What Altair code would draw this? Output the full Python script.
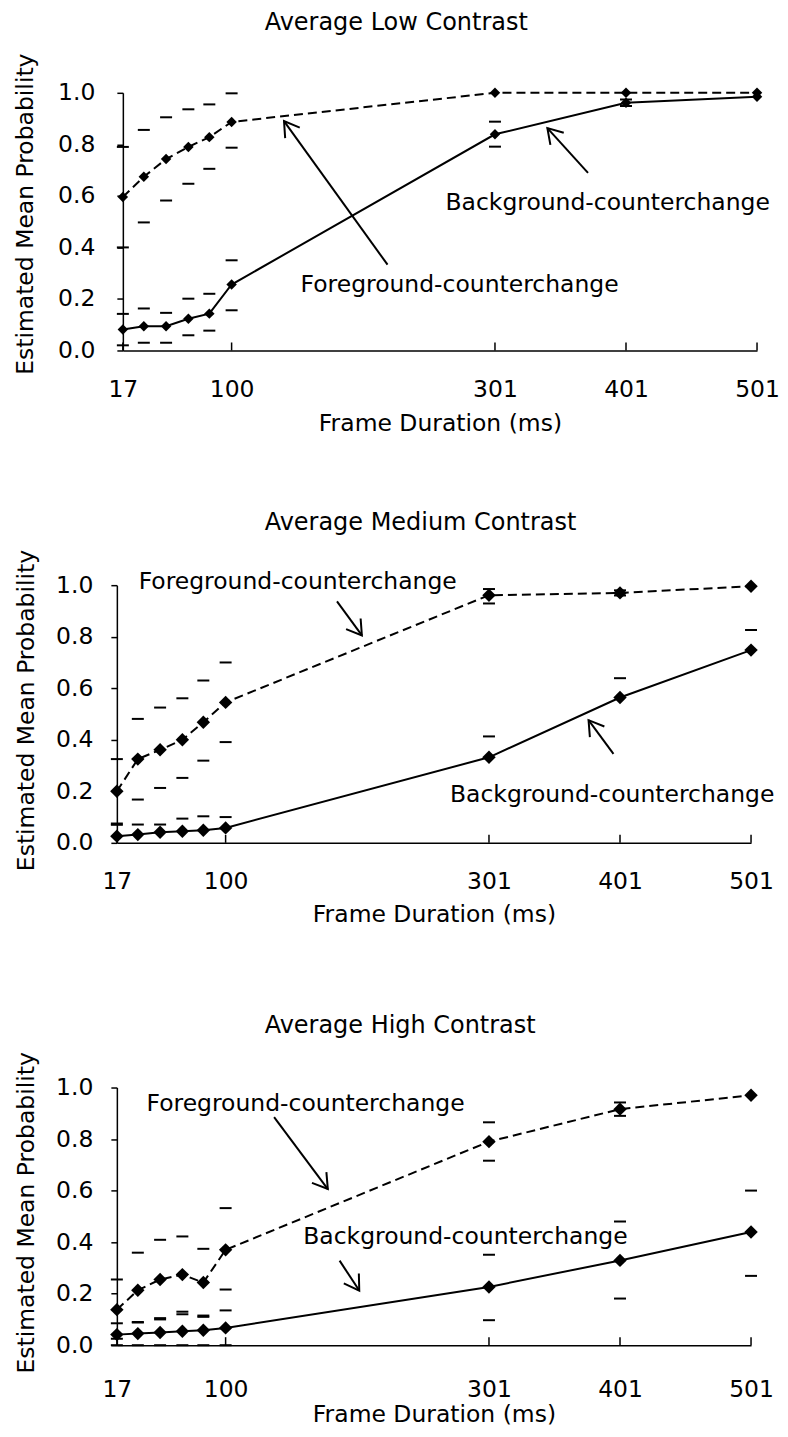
import math
import altair as alt
import pandas as pd

FONT = "DejaVu Sans"
FS = 23.5
W = 635          # plot width (17..501 ms)
H = 258          # plot height (0..1)

# ---------------- data ----------------
frame_ms = [17, 33, 50, 67, 83, 100, 301, 401, 501]
x_tick_values = [17, 100, 301, 401, 501]
y_tick_values = [0.0, 0.2, 0.4, 0.6, 0.8, 1.0]

titles = ["Average Low Contrast", "Average Medium Contrast", "Average High Contrast"]
series_labels = ["Foreground-counterchange", "Background-counterchange"]

# Low contrast
low_fg = [0.596, 0.674, 0.743, 0.790, 0.828, 0.887, 1.000, 1.000, 1.000]
low_fg_hi = [0.790, 0.856, 0.905, 0.936, 0.955, 0.998, None, None, None]
low_fg_lo = [0.400, 0.497, 0.582, 0.647, 0.705, 0.787, None, None, None]
low_bg = [0.081, 0.094, 0.094, 0.123, 0.143, 0.256, 0.839, 0.961, 0.985]
low_bg_hi = [0.142, 0.163, 0.146, 0.201, 0.220, 0.350, 0.888, 0.974, None]
low_bg_lo = [0.020, 0.030, 0.030, 0.059, 0.077, 0.156, 0.791, 0.949, None]

# Medium contrast
med_fg = [0.200, 0.325, 0.361, 0.400, 0.468, 0.545, 0.961, 0.970, 0.996]
med_fg_hi = [0.325, 0.481, 0.525, 0.561, 0.630, 0.700, 0.985, 0.980, None]
med_fg_lo = [0.075, 0.168, 0.213, 0.252, 0.319, 0.391, 0.929, 0.960, None]
med_bg = [0.026, 0.032, 0.041, 0.045, 0.049, 0.058, 0.332, 0.564, 0.748]
med_bg_hi = [0.070, 0.071, 0.071, 0.094, 0.103, 0.100, 0.413, 0.639, 0.826]
med_bg_lo = [None, None, None, None, None, None, None, None, None]

# High contrast
high_fg = [0.138, 0.213, 0.255, 0.274, 0.243, 0.370, 0.790, 0.916, 0.970]
high_fg_hi = [0.255, 0.359, 0.409, 0.422, 0.374, 0.532, 0.865, 0.942, None]
high_fg_lo = [0.025, 0.088, 0.105, 0.130, 0.115, 0.216, 0.716, 0.890, None]
high_bg = [0.041, 0.045, 0.049, 0.054, 0.058, 0.067, 0.226, 0.329, 0.439]
high_bg_hi = [0.085, 0.090, 0.100, 0.120, 0.110, 0.135, 0.351, 0.480, 0.600]
high_bg_lo = [0.000, 0.000, 0.000, 0.000, 0.000, 0.000, 0.097, 0.181, 0.269]

# annotation label centres (ms, probability) : [foreground, background]
low_ann_x = [274, 387]
low_ann_y = [0.256, 0.573]
med_ann_x = [155, 395]
med_ann_y = [1.014, 0.186]
high_ann_x = [161, 283]
high_ann_y = [0.935, 0.421]

# arrows: from (x0, y0) to tip (x1, y1) : [foreground, background]
low_arr_x0 = [219, 372]
low_arr_y0 = [0.333, 0.689]
low_arr_x1 = [140, 341]
low_arr_y1 = [0.890, 0.863]
med_arr_x0 = [185, 396]
med_arr_y0 = [0.937, 0.345]
med_arr_x1 = [204, 377]
med_arr_y1 = [0.805, 0.476]
high_arr_x0 = [137, 187]
high_arr_y0 = [0.885, 0.328]
high_arr_x1 = [178, 202]
high_arr_y1 = [0.606, 0.212]

ARROW_HEAD = "M-0.53,0.85L0,0L0.53,0.85"


def caps_frame(hi, lo):
    rows = []
    for ms, h, l in zip(frame_ms, hi, lo):
        if h is not None:
            rows.append({"ms": ms, "v": h})
        if l is not None:
            rows.append({"ms": ms, "v": l})
    return pd.DataFrame(rows)


def panel(title, fg, fg_hi, fg_lo, bg, bg_hi, bg_lo,
          ann_x, ann_y, ax0, ay0, ax1, ay1,
          marker_size, shift, ylab_pad, ytitle_pad, ytitle_y,
          xlab_pad, xtitle_pad, title_offset):
    width = W + shift
    xs = alt.Scale(domain=[17, 501], range=[shift, width], nice=False, zero=False)
    ys = alt.Scale(domain=[0, 1], nice=False, zero=False)

    x_axis = alt.Axis(values=x_tick_values, format="d", title="Frame Duration (ms)",
                      ticks=False, labelPadding=xlab_pad, titlePadding=xtitle_pad,
                      labelFlush=False, grid=False)
    y_axis = alt.Axis(values=y_tick_values, format=".1f", title="Estimated Mean Probability",
                      offset=-shift, tickSize=6, labelPadding=ylab_pad,
                      titlePadding=ytitle_pad, titleY=ytitle_y,
                      labelFlush=False, grid=False)

    df_fg = pd.DataFrame({"ms": frame_ms, "v": fg})
    df_bg = pd.DataFrame({"ms": frame_ms, "v": bg})
    df_caps = pd.concat([caps_frame(fg_hi, fg_lo), caps_frame(bg_hi, bg_lo)], ignore_index=True)
    df_ticks = pd.DataFrame({"ms": x_tick_values, "v0": [0.0] * len(x_tick_values),
                             "v1": [8.0 / H] * len(x_tick_values)})
    df_ann = pd.DataFrame({"ms": ann_x, "v": ann_y, "label": series_labels})
    ang = []
    for x0, y0, x1, y1 in zip(ax0, ay0, ax1, ay1):
        dx = (x1 - x0) * W / 484.0
        dyup = (y1 - y0) * H
        ang.append(math.degrees(math.atan2(dx, dyup)) % 360)
    df_arr = pd.DataFrame({"x0": ax0, "y0": ay0, "ms": ax1, "v": ay1, "angle": ang})

    X = alt.X("ms:Q", scale=xs)
    Y = alt.Y("v:Q", scale=ys)

    line_bg = alt.Chart(df_bg).mark_line(color="black", strokeWidth=2).encode(
        x=alt.X("ms:Q", scale=xs, axis=x_axis),
        y=alt.Y("v:Q", scale=ys, axis=y_axis),
    )
    line_fg = alt.Chart(df_fg).mark_line(color="black", strokeWidth=2, strokeDash=[9, 5]).encode(
        x=X, y=Y)
    pts = alt.Chart(pd.concat([df_fg, df_bg], ignore_index=True)).mark_point(
        shape="diamond", filled=True, color="black", opacity=1, size=marker_size
    ).encode(x=X, y=Y)
    caps = alt.Chart(df_caps).mark_tick(
        orient="horizontal", size=12, thickness=2, color="black", opacity=1
    ).encode(x=X, y=Y)
    xticks = alt.Chart(df_ticks).mark_rule(color="black", strokeWidth=1.5).encode(
        x=X, y=alt.Y("v0:Q", scale=ys), y2="v1:Q")
    ann = alt.Chart(df_ann).mark_text(
        font=FONT, fontSize=FS, color="black", align="center", baseline="middle"
    ).encode(x=X, y=Y, text="label:N")
    shafts = alt.Chart(df_arr).mark_rule(color="black", strokeWidth=2).encode(
        x=alt.X("x0:Q", scale=xs), y=alt.Y("y0:Q", scale=ys), x2="ms:Q", y2="v:Q")
    heads = alt.Chart(df_arr).mark_point(
        shape=ARROW_HEAD, filled=False, color="black", strokeWidth=2, opacity=1, size=1156
    ).encode(x=X, y=Y, angle=alt.Angle("angle:Q", scale=None))
    return alt.layer(line_bg, line_fg, caps, pts, xticks, shafts, heads, ann).properties(
        width=width, height=H,
        title=alt.TitleParams(text=title, anchor="start", frame="group", dx=148, fontSize=24,
                              font=FONT, fontWeight="normal", color="black",
                              offset=title_offset),
    )


p1 = panel(titles[0], low_fg, low_fg_hi, low_fg_lo, low_bg, low_bg_hi, low_bg_lo,
           low_ann_x, low_ann_y, low_arr_x0, low_arr_y0, low_arr_x1, low_arr_y1,
           110, 6, 22, 20, 121, 27.5, 10, 18)
p2 = panel(titles[1], med_fg, med_fg_hi, med_fg_lo, med_bg, med_bg_hi, med_bg_lo,
           med_ann_x, med_ann_y, med_arr_x0, med_arr_y0, med_arr_x1, med_arr_y1,
           180, 0, 18, 17, 125, 26.5, 10, 14)
p3 = panel(titles[2], high_fg, high_fg_hi, high_fg_lo, high_bg, high_bg_hi, high_bg_lo,
           high_ann_x, high_ann_y, high_arr_x0, high_arr_y0, high_arr_x1, high_arr_y1,
           180, 0, 18, 17, 125, 32, 2, 14)

chart = alt.vconcat(
    p1, alt.vconcat(p2, p3, spacing=87), spacing=76
).properties(
    padding={"left": 5, "top": 2, "right": 0, "bottom": 0}
).configure(
    background="white",
    view=alt.ViewConfig(stroke=None),
    axis=alt.AxisConfig(
        domainColor="black", domainWidth=1.5, tickColor="black", tickWidth=1.5,
        labelFont=FONT, labelFontSize=FS, labelColor="black",
        titleFont=FONT, titleFontSize=FS, titleColor="black", titleFontWeight="normal",
    ),
)

chart.save("out.html", embed_options={"renderer": "svg", "actions": False})
